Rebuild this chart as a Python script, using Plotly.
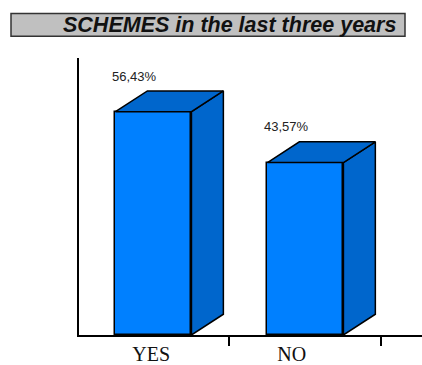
import plotly.graph_objects as go

# Survey answers and their shares (%)
categories = ["YES", "NO"]
shares = [56.43, 43.57]
share_labels = ["56,43%", "43,57%"]
title_text = "SCHEMES in the last three years"

# Geometry / style settings
W, H = 422, 365
L, R, T, B = 79, 0, 58, 27
bar_w = 0.5          # front-face width in category units
depth_x = 0.21       # 3D depth offset (category units)
depth_y = 5.25       # 3D depth offset (value units)
x_range = [-0.490, 1.767]
y_range = [0, 70]
front_col = "#0080FF"
shade_col = "#0066CC"
edge = dict(color="black", width=1.5)
label_dx = -0.127    # value label horizontal offset
label_dy = 9.0       # value label height above bar
cat_label_x = [-0.015, -0.09]

xs = list(range(len(categories)))

fig = go.Figure()

# Front faces
fig.add_trace(go.Bar(
    x=xs, y=shares, width=bar_w,
    marker=dict(color=front_col, line=edge),
    hoverinfo="skip", showlegend=False,
))

# Top and side faces of each box
top_x, top_y, side_x, side_y = [], [], [], []
for x, v in zip(xs, shares):
    xl, xr = x - bar_w / 2, x + bar_w / 2
    top_x += [xl, xl + depth_x, xr + depth_x, xr, xl, None]
    top_y += [v, v + depth_y, v + depth_y, v, v, None]
    side_x += [xr, xr + depth_x, xr + depth_x, xr, xr, None]
    side_y += [0, depth_y, v + depth_y, v, 0, None]

for px, py in ((side_x, side_y), (top_x, top_y)):
    fig.add_trace(go.Scatter(
        x=px, y=py, mode="lines", fill="toself",
        fillcolor=shade_col, line=edge,
        hoverinfo="skip", showlegend=False,
    ))

# Value labels
for x, v, t in zip(xs, shares, share_labels):
    fig.add_annotation(
        x=x + label_dx, y=v + label_dy, text=t, showarrow=False,
        xanchor="center", yanchor="middle",
        font=dict(family="Liberation Sans, Arial", size=13, color="#222222"),
    )

# Title box
px0 = (11 - L) / (W - L - R)
px1 = (405 - L) / (W - L - R)
ph = H - T - B
fig.add_shape(
    type="rect", xref="paper", yref="paper",
    x0=px0, x1=px1, y0=(H - B - 36) / ph, y1=(H - B - 13) / ph,
    fillcolor="#C0C0C0", line=dict(color="#333333", width=1.5),
    layer="above",
)
fig.add_annotation(
    xref="paper", yref="paper",
    x=(398 - L) / (W - L - R), y=(H - B - 25) / ph,
    text=title_text, showarrow=False, xanchor="right", yanchor="middle",
    font=dict(family="Liberation Sans, Arial", size=21.5, color="#111111",
              weight="bold", style="italic"),
)

fig.update_layout(
    width=W, height=H,
    margin=dict(l=L, r=R, t=T, b=B),
    paper_bgcolor="white", plot_bgcolor="white",
    bargap=0,
    xaxis=dict(
        range=x_range, showgrid=False, zeroline=False,
        showline=True, linecolor="black", linewidth=1.5,
        tickmode="array", tickvals=[x + d for x, d in zip(xs, cat_label_x)],
        ticktext=categories, ticks="",
        tickfont=dict(family="Liberation Serif, Times New Roman", size=20,
                      color="#111111"),
        minor=dict(tickmode="array", tickvals=[0.5, 1.5], ticks="outside",
                   ticklen=9, tickwidth=1.5, tickcolor="black"),
    ),
    yaxis=dict(
        range=y_range, showgrid=False, zeroline=False,
        showline=True, linecolor="black", linewidth=1.5,
        showticklabels=False, ticks="",
    ),
)

fig.write_html("out.html")
